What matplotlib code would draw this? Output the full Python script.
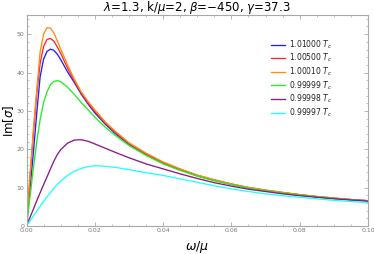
import matplotlib
matplotlib.use("Agg")
import matplotlib.pyplot as plt
from matplotlib.ticker import MultipleLocator

# omega/mu grid shared by all curves
omega = [0, 0.001, 0.002, 0.003, 0.004, 0.005, 0.006, 0.007, 0.008, 0.009,
         0.010, 0.012, 0.014, 0.016, 0.018, 0.020, 0.023, 0.026, 0.030,
         0.035, 0.040, 0.045, 0.050, 0.055, 0.060, 0.065, 0.070, 0.075,
         0.080, 0.085, 0.090, 0.095, 0.100]

im_101000 = [0, 9.5, 19.0, 29.5, 39.0, 43.5, 45.5, 46.1, 45.8, 44.8,
             43.4, 40.2, 37.4, 34.4, 31.8, 29.5, 26.6, 24.1, 21.3,
             18.7, 16.4, 14.7, 13.1, 11.9, 10.9, 10.0, 9.3, 8.7,
             8.1, 7.6, 7.2, 6.9, 6.6]
im_100500 = [0, 12.5, 24.0, 34.5, 42.5, 46.8, 48.6, 48.9, 48.2, 46.7,
             45.0, 41.2, 37.8, 34.7, 32.1, 29.9, 26.9, 24.4, 21.5,
             18.8, 16.5, 14.8, 13.2, 12.0, 10.9, 10.0, 9.3, 8.7,
             8.2, 7.7, 7.3, 6.9, 6.6]
im_100010 = [0, 13.0, 25.0, 35.5, 45.5, 50.0, 51.7, 51.6, 50.3, 48.3,
             46.2, 42.0, 38.3, 35.0, 32.5, 30.3, 27.2, 24.7, 21.7,
             19.0, 16.7, 14.9, 13.3, 12.1, 11.0, 10.1, 9.4, 8.8,
             8.2, 7.7, 7.3, 6.9, 6.6]
im_099999 = [0, 7.5, 15.0, 22.0, 27.8, 32.2, 35.0, 36.8, 37.7, 37.9,
             37.6, 36.2, 34.3, 32.2, 30.3, 28.4, 25.8, 23.6, 21.0,
             18.4, 16.2, 14.5, 13.0, 11.8, 10.8, 9.9, 9.2, 8.6,
             8.1, 7.6, 7.2, 6.8, 6.5]
im_099998 = [0, 2.2, 4.4, 6.6, 8.7, 10.8, 12.8, 14.9, 16.9, 18.6,
             19.9, 21.6, 22.4, 22.5, 22.1, 21.4, 20.3, 19.2, 17.8,
             16.2, 14.9, 13.6, 12.4, 11.3, 10.4, 9.6, 9.0, 8.4,
             7.9, 7.5, 7.1, 6.8, 6.5]
im_099997 = [0, 1.3, 2.6, 3.9, 5.2, 6.4, 7.6, 8.7, 9.8, 10.8,
             11.7, 13.2, 14.3, 15.0, 15.5, 15.7, 15.6, 15.3, 14.7,
             13.9, 13.2, 12.3, 11.4, 10.5, 9.7, 9.0, 8.4, 7.9,
             7.5, 7.1, 6.7, 6.4, 6.1]

labels = ["1.01000", "1.00500", "1.00010", "0.99999", "0.99998", "0.99997"]
series = [im_101000, im_100500, im_100010, im_099999, im_099998, im_099997]
colors = ["#1f1fff", "#ff2626", "#ff8a14", "#22ee22", "#8a1a8a", "#22ffff"]

fig = plt.figure(figsize=(3.74, 2.54), dpi=100)
ax = fig.add_axes([0.0709, 0.110, 0.9131, 0.831])

for ys, lab, col in zip(series, labels, colors):
    ax.plot(omega, ys, color=col, lw=0.95, label=lab + r" $T_c$")

ax.set_xlim(0, 0.1)
ax.set_ylim(0, 55)
ax.xaxis.set_major_locator(MultipleLocator(0.02))
ax.xaxis.set_minor_locator(MultipleLocator(0.005))
ax.yaxis.set_major_locator(MultipleLocator(10))
ax.yaxis.set_minor_locator(MultipleLocator(2))
ax.xaxis.set_major_formatter(plt.FuncFormatter(lambda v, p: f"{v:.2f}"))

grey = "#a8a8a8"
for s in ax.spines.values():
    s.set_color(grey)
    s.set_linewidth(0.8)
ax.tick_params(which="both", direction="in", top=True, right=True,
               colors=grey, labelcolor="#777777", labelsize=4.5, pad=1.5)
ax.tick_params(which="major", length=3, width=0.6)
ax.tick_params(which="minor", length=1.6, width=0.5)

ax.set_xlabel(r"$\omega/\mu$", fontsize=9, labelpad=4)
ax.set_ylabel(r"Im[$\sigma$]", fontsize=8.5, va="center")
ax.yaxis.set_label_coords(-0.052, 0.5)
fig.text(0.525, 0.972, r"$\lambda$=1.3, k/$\mu$=2, $\beta$=$-$450, $\gamma$=37.3",
         ha="center", va="center", fontsize=8.5)

leg = ax.legend(loc="upper left", bbox_to_anchor=(0.717, 0.89), frameon=False,
                fontsize=5.5, handlelength=1.8, handletextpad=0.5,
                labelspacing=0.15, borderpad=0, borderaxespad=0)
for t in leg.get_texts():
    t.set_color("#222222")

fig.savefig("out.png", dpi=100)
